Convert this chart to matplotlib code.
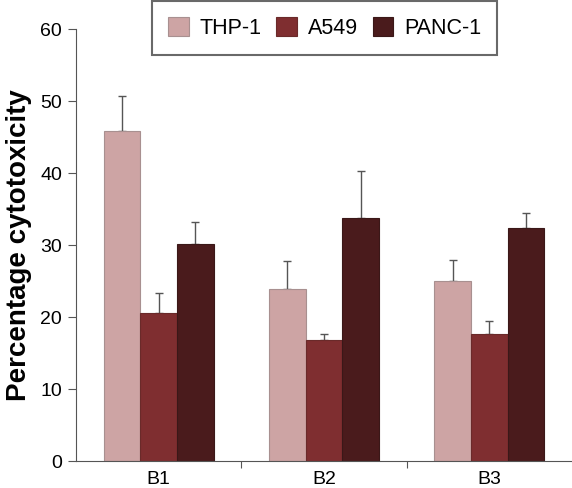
import matplotlib
matplotlib.use("Agg")
import matplotlib.pyplot as plt
import numpy as np

plt.rcParams['font.family'] = ['Liberation Sans', 'DejaVu Sans']

categories = ["B1", "B2", "B3"]
series = ["THP-1", "A549", "PANC-1"]
thp1 = [45.8, 23.9, 25.0]
thp1_err = [4.9, 3.9, 2.9]
a549 = [20.6, 16.8, 17.7]
a549_err = [2.7, 0.8, 1.7]
panc1 = [30.1, 33.7, 32.3]
panc1_err = [3.1, 6.6, 2.2]

colors = ["#CDA4A4", "#7F2E30", "#4A1B1C"]
edges = ["#A89090", "#6A2A2A", "#3A1818"]

fig = plt.figure(figsize=(5.72, 4.88), dpi=100)
ax = fig.add_axes([76/572, 27/488, 496/572, 432/488])

x = np.arange(len(categories))
w = 0.222
vals = [thp1, a549, panc1]
errs = [thp1_err, a549_err, panc1_err]
for i, (v, e) in enumerate(zip(vals, errs)):
    ax.bar(x + (i - 1) * w, v, w, color=colors[i], edgecolor=edges[i], linewidth=0.8,
           label=series[i], zorder=2,
           yerr=[np.zeros(len(e)), e], error_kw=dict(ecolor="#555555", elinewidth=1.0, capsize=2.6, capthick=1.0, zorder=1))

ax.set_xlim(-0.5, 2.5)
ax.set_ylim(0, 60)
ax.set_yticks([0, 10, 20, 30, 40, 50, 60])
ax.set_xticks(x)
ax.set_xticklabels(categories)
ax.set_xticks([0.5, 1.5], minor=True)
ax.tick_params(axis='x', which='major', length=0, labelsize=14, pad=7)
ax.tick_params(axis='x', which='minor', length=5, width=0.8, color="#555555")
ax.tick_params(axis='y', length=6, width=0.8, color="#555555", labelsize=14, pad=4)
for s in ['top', 'right']:
    ax.spines[s].set_visible(False)
ax.spines['left'].set_color("#555555")
ax.spines['bottom'].set_color("#555555")
ax.spines['left'].set_linewidth(0.8)
ax.spines['bottom'].set_linewidth(0.8)
ax.set_ylabel("Percentage cytotoxicity", fontsize=20, fontweight='bold', labelpad=6)

leg = fig.legend(loc='upper left', bbox_to_anchor=(152/572, 1 - 1/488), ncol=3, fontsize=15.5,
                 frameon=True, fancybox=False, edgecolor="#444444", handlelength=0.95, handleheight=0.95,
                 columnspacing=0.7, handletextpad=0.5, borderpad=0.75, borderaxespad=0)
leg.get_frame().set_linewidth(1.5)

fig.savefig("out.png", dpi=100)
